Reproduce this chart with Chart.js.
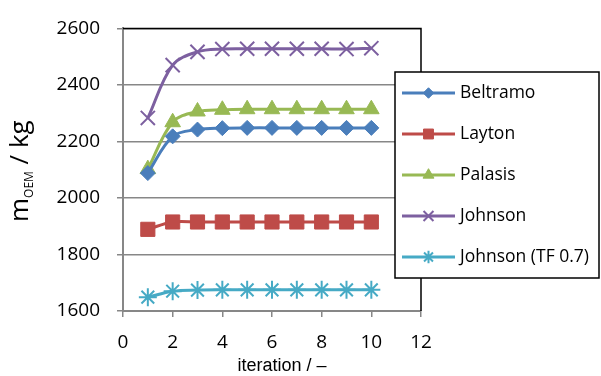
<!DOCTYPE html>
<html>
<head>
<meta charset="utf-8">
<script src="https://cdn.jsdelivr.net/npm/chart.js@4"></script>
<style>
body { margin: 0; background: #fff; }
</style>
</head>
<body>
<canvas id="massChart" width="601" height="376"></canvas>
<script>
// iteration number on the x axis
const iterations = [1, 2, 3, 4, 5, 6, 7, 8, 9, 10];

// m_OEM in kg per method
const beltramo = [2088, 2218, 2242, 2247, 2248, 2248, 2248, 2248, 2248, 2248];
const layton = [1889, 1915, 1915, 1915, 1915, 1915, 1915, 1915, 1915, 1915];
const palasis = [2102, 2268, 2306, 2312, 2314, 2314, 2314, 2314, 2314, 2314];
const johnson = [2283, 2470, 2517, 2527, 2528, 2528, 2528, 2528, 2527, 2530];
const johnsonTF = [1649, 1670, 1674, 1675, 1675, 1675, 1675, 1675, 1675, 1675];

const xTicks = [0, 2, 4, 6, 8, 10, 12];
const yTicks = [1600, 1800, 2000, 2200, 2400, 2600];

function toPoints(values) {
  return values.map((v, i) => ({ x: iterations[i], y: v }));
}

function series(label, values, color, style, radius, bw) {
  return {
    label: label,
    data: toPoints(values),
    borderColor: color,
    backgroundColor: color,
    borderWidth: 3,
    pointStyle: style,
    pointRadius: radius,
    pointBorderWidth: bw,
    pointBackgroundColor: color,
    pointBorderColor: color,
    tension: 0.35
  };
}

const datasets = [
  series("Beltramo", beltramo, "#4A7EBB", "rectRot", 7.5, 1),
  series("Layton", layton, "#BE4B48", "rect", 10, 1),
  series("Palasis", palasis, "#98B954", "triangle", 9, 1),
  series("Johnson", johnson, "#7D60A0", "crossRot", 10, 2),
  series("Johnson (TF 0.7)", johnsonTF, "#46AAC5", "star", 9, 2)
];

const gridGray = "#878787";

// black frame on top and right side, axis titles and the legend box
const decorations = {
  id: "decorations",
  afterDraw(chart) {
    const ctx = chart.ctx;
    const a = chart.chartArea;
    ctx.save();

    ctx.strokeStyle = "#000";
    ctx.lineWidth = 1.5;
    ctx.beginPath();
    ctx.moveTo(a.left, a.top);
    ctx.lineTo(a.right, a.top);
    ctx.lineTo(a.right, a.bottom);
    ctx.stroke();

    // y title with subscript
    ctx.fillStyle = "#000";
    ctx.translate(28, 222);
    ctx.rotate(-Math.PI / 2);
    ctx.textAlign = "left";
    ctx.textBaseline = "alphabetic";
    ctx.font = '26px "Open Sans"';
    ctx.fillText("m", 0, 0);
    let w = ctx.measureText("m").width;
    ctx.font = '12px "Open Sans"';
    ctx.fillText("OEM", w, 5);
    w += ctx.measureText("OEM").width;
    ctx.font = '26px "Open Sans"';
    ctx.fillText(" / kg", w, 0);
    ctx.restore();

    // x title
    ctx.save();
    ctx.fillStyle = "#000";
    ctx.font = '18px "Liberation Sans"';
    ctx.textAlign = "center";
    ctx.textBaseline = "middle";
    ctx.fillText("iteration / \u2013", 282, 366);
    ctx.restore();

    // legend
    ctx.save();
    ctx.fillStyle = "#fff";
    ctx.fillRect(395, 72, 204, 206);
    ctx.strokeStyle = "#000";
    ctx.lineWidth = 1.5;
    ctx.strokeRect(395, 72, 204, 206);
    chart.data.datasets.forEach((ds, i) => {
      const y = 93 + i * 41;
      ctx.strokeStyle = ds.borderColor;
      ctx.lineWidth = 3;
      ctx.beginPath();
      ctx.moveTo(402, y);
      ctx.lineTo(455, y);
      ctx.stroke();
      ctx.fillStyle = ds.borderColor;
      ctx.lineWidth = ds.pointBorderWidth;
      Chart.helpers.drawPoint(ctx, {
        pointStyle: ds.pointStyle,
        radius: ds.pointRadius * 0.7,
        rotation: 0,
        borderWidth: ds.pointBorderWidth
      }, 428.5, y);
      ctx.fillStyle = "#000";
      ctx.font = '17.5px "Open Sans"';
      ctx.textAlign = "left";
      ctx.textBaseline = "middle";
      ctx.fillText(ds.label, 460, y);
    });
    ctx.restore();
  }
};

new Chart(document.getElementById("massChart"), {
  type: "line",
  data: { datasets: datasets },
  plugins: [decorations],
  options: {
    responsive: false,
    animation: false,
    layout: { padding: { top: 22, right: 180, left: 0, bottom: 0 } },
    plugins: {
      legend: { display: false },
      tooltip: { enabled: false }
    },
    scales: {
      x: {
        type: "linear",
        min: 0,
        max: 12,
        afterBuildTicks: s => { s.ticks = xTicks.map(v => ({ value: v })); },
        afterFit: s => { s.height = 65; },
        grid: { drawOnChartArea: false, color: gridGray, tickLength: 6, lineWidth: 1.5 },
        border: { color: gridGray, width: 2 },
        ticks: { color: "#000", font: { family: "Open Sans", size: 19 }, padding: 14, callback: v => String(v) }
      },
      y: {
        min: 1600,
        max: 2600,
        afterBuildTicks: s => { s.ticks = yTicks.map(v => ({ value: v })); },
        afterFit: s => { s.width = 123; },
        grid: { color: gridGray, tickLength: 6, lineWidth: 1.5 },
        border: { color: gridGray, width: 2 },
        ticks: { color: "#000", font: { family: "Open Sans", size: 19 }, padding: 17, callback: v => String(v) }
      }
    }
  }
});
</script>
</body>
</html>
